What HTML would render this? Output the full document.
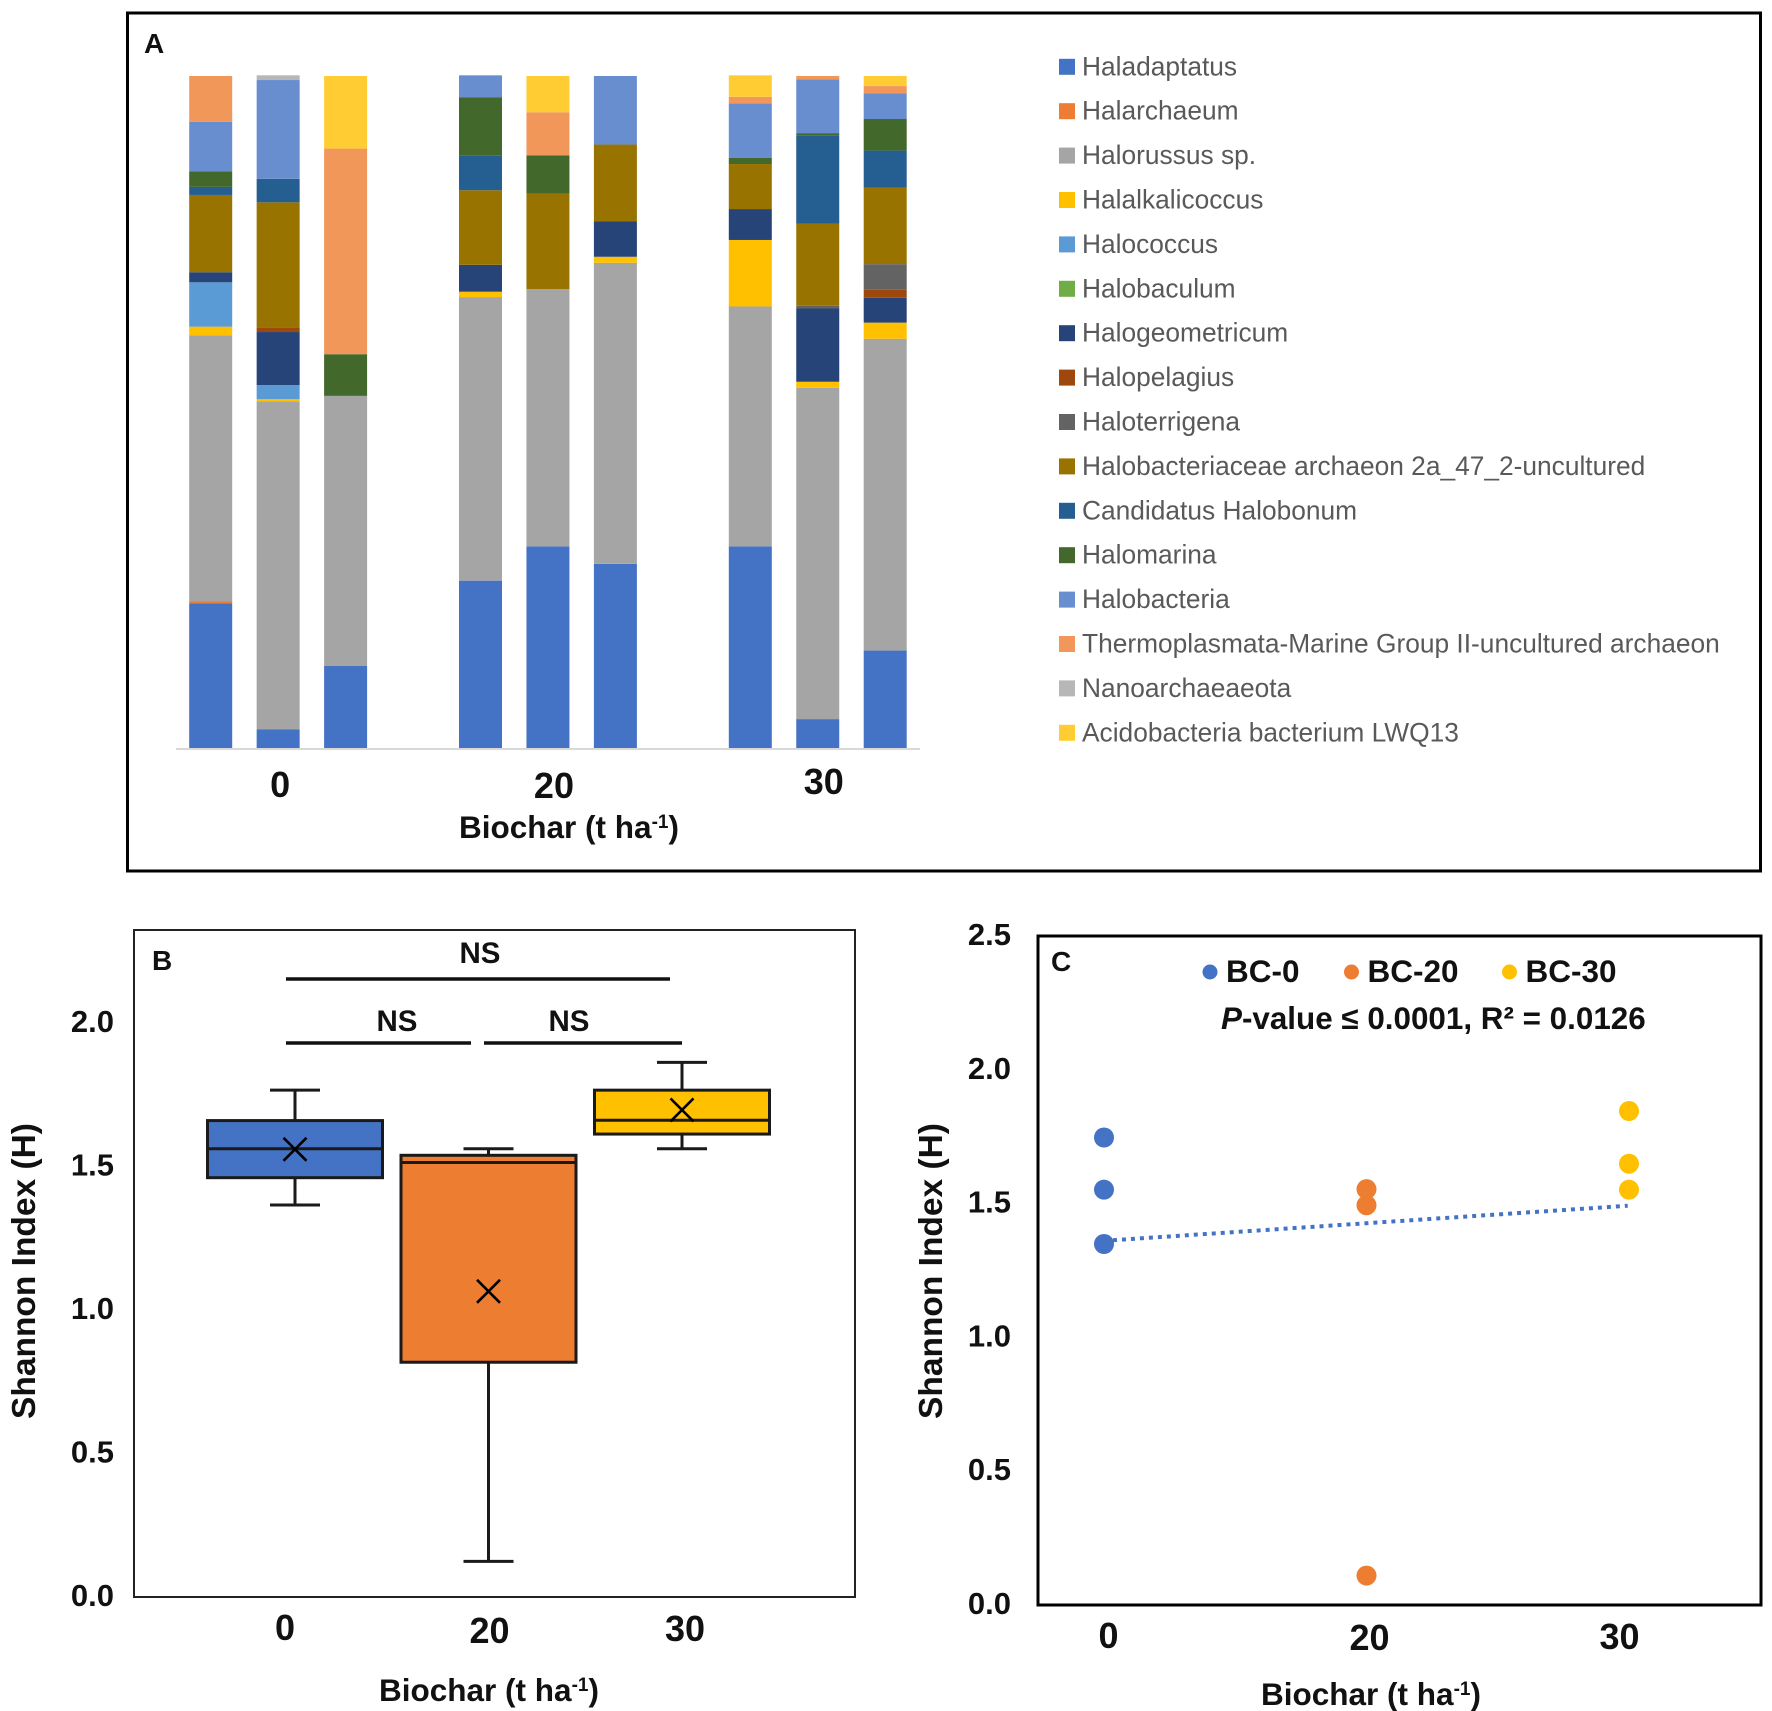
<!DOCTYPE html>
<html lang="en">
<head>
<meta charset="utf-8">
<title>Biochar archaeal community and Shannon diversity</title>
<style>
html,body{margin:0;padding:0;background:#fff;width:1772px;height:1711px;overflow:hidden}
svg{display:block}
text{font-family:"Liberation Sans",Arial,sans-serif}
.b{font-weight:700;fill:#111}
</style>
</head>
<body>
<svg id="fig" xmlns="http://www.w3.org/2000/svg" width="1772" height="1711" viewBox="0 0 1772 1711">
  <rect x="0" y="0" width="1772" height="1711" fill="#fff"/>
  <g id="panelA">
    <rect x="127.5" y="13" width="1633" height="858" fill="none" stroke="#000" stroke-width="3"/>
    <text class="b" x="144" y="53" font-size="28">A</text>
    <text class="b" x="569" y="838" font-size="31.5" text-anchor="middle">Biochar (t ha<tspan dy="-10" font-size="19">-1</tspan><tspan dy="10">)</tspan></text>
  </g>
  <g id="panelB">
    <rect x="134" y="930" width="721" height="667" fill="none" stroke="#222" stroke-width="2"/>
    <text class="b" x="152" y="970" font-size="28">B</text>
    <text class="b" transform="translate(35,1271) rotate(-90)" font-size="33.5" text-anchor="middle">Shannon Index (H)</text>
    <text class="b" x="489" y="1701" font-size="31.5" text-anchor="middle">Biochar (t ha<tspan dy="-10" font-size="19">-1</tspan><tspan dy="10">)</tspan></text>
    <line x1="286" y1="979" x2="670" y2="979" stroke="#111" stroke-width="3.5"/>
    <line x1="286" y1="1043" x2="471" y2="1043" stroke="#111" stroke-width="3.5"/>
    <line x1="484" y1="1043" x2="682" y2="1043" stroke="#111" stroke-width="3.5"/>
    <text class="b" x="480" y="963" font-size="29.5" text-anchor="middle">NS</text>
    <text class="b" x="397" y="1031" font-size="29.5" text-anchor="middle">NS</text>
    <text class="b" x="569" y="1031" font-size="29.5" text-anchor="middle">NS</text>
  </g>
  <g id="panelC">
    <rect x="1038" y="936" width="723" height="669" fill="none" stroke="#000" stroke-width="3"/>
    <text class="b" x="1051" y="971" font-size="28">C</text>
    <text class="b" transform="translate(942,1271) rotate(-90)" font-size="33.5" text-anchor="middle">Shannon Index (H)</text>
    <text class="b" x="1371" y="1705" font-size="31.5" text-anchor="middle">Biochar (t ha<tspan dy="-10" font-size="19">-1</tspan><tspan dy="10">)</tspan></text>
    <text class="b" x="1221" y="1029" font-size="31.4"><tspan font-style="italic">P</tspan>-value ≤ 0.0001, R² = 0.0126</text>
  </g>
</svg>
<script>
// ---------- Panel A data (percent of community, one value per sample) ----------
const groupLabels = ["0", "20", "30"];
const seriesNames = ["Haladaptatus", "Halarchaeum", "Halorussus sp.", "Halalkalicoccus", "Halococcus", "Halobaculum", "Halogeometricum", "Halopelagius", "Haloterrigena", "Halobacteriaceae archaeon 2a_47_2-uncultured", "Candidatus Halobonum", "Halomarina", "Halobacteria", "Thermoplasmata-Marine Group II-uncultured archaeon", "Nanoarchaeaeota", "Acidobacteria bacterium LWQ13"];
const seriesColors = ["#4472c4", "#ed7d31", "#a5a5a5", "#ffc000", "#5b9bd5", "#70ad47", "#264478", "#9e480e", "#636363", "#997300", "#255e91", "#43682b", "#698ed0", "#f1975a", "#b7b7b7", "#ffcd33"];
const haladaptatus = [21.5, 2.8, 12.2, 24.9, 30.0, 27.4, 30.0, 4.3, 14.5];
const halarchaeum = [0.3, 0, 0, 0, 0, 0, 0, 0, 0];
const halorussus = [39.6, 48.8, 40.2, 42.2, 38.3, 44.8, 35.7, 49.3, 46.4];
const halalkalicoccus = [1.3, 0.3, 0, 0.8, 0, 0.9, 9.9, 0.9, 2.4];
const halococcus = [6.6, 2.1, 0, 0, 0, 0, 0, 0, 0];
const halobaculum = [0, 0, 0, 0, 0, 0, 0, 0, 0];
const halogeometricum = [1.5, 7.9, 0, 4.0, 0, 5.3, 4.6, 10.9, 3.7];
const halopelagius = [0, 0.7, 0, 0, 0, 0, 0, 0, 1.2];
const haloterrigena = [0, 0, 0, 0, 0, 0, 0, 0.4, 3.8];
const halobacteriaceae = [11.5, 18.6, 0, 11.1, 14.2, 11.4, 6.7, 12.2, 11.4];
const candidatus = [1.2, 3.5, 0, 5.2, 0, 0, 0, 13.1, 5.5];
const halomarina = [2.3, 0, 6.2, 8.6, 5.7, 0, 0.9, 0.4, 4.7];
const halobacteria = [7.4, 14.7, 0, 3.3, 0, 10.2, 8.1, 8.0, 3.8];
const thermoplasmata = [6.8, 0, 30.6, 0, 6.4, 0, 1.0, 0.5, 1.1];
const nanoarchaeaeota = [0, 0.7, 0, 0, 0, 0, 0, 0, 0];
const acidobacteria = [0, 0, 10.8, 0, 5.4, 0, 3.2, 0, 1.5];

// ---------- Panel B data (Shannon index box summaries) ----------
const boxCategories = ["0", "20", "30"];
const boxColors = ["#4472c4", "#ed7d31", "#ffc000"];
const boxLow = [1.366, 0.124, 1.562];
const boxQ1 = [1.461, 0.818, 1.613];
const boxMedian = [1.562, 1.514, 1.661];
const boxQ3 = [1.66, 1.539, 1.766];
const boxHigh = [1.766, 1.562, 1.863];
const boxMean = [1.56, 1.065, 1.697];
const boxTicks = [0, 0.5, 1, 1.5, 2];

// ---------- Panel C data (Shannon index per sample) ----------
const scatterNames = ["BC-0", "BC-20", "BC-30"];
const scatterColors = ["#4472c4", "#ed7d31", "#ffc000"];
const scatterBC0 = [1.747, 1.552, 1.349];
const scatterBC20 = [1.554, 1.494, 0.11];
const scatterBC30 = [1.846, 1.649, 1.552];
const trendValues = [1.361, 1.492];
const scatterTicks = [0, 0.5, 1, 1.5, 2, 2.5];

const NS = "http://www.w3.org/2000/svg";
function mk(parent, tag, attrs, txt) {
  const el = document.createElementNS(NS, tag);
  for (const k in attrs) el.setAttribute(k, attrs[k]);
  if (txt !== undefined) el.textContent = txt;
  parent.appendChild(el);
  return el;
}
const fmt1 = v => v.toFixed(1);

// ---------- Panel A ----------
(function () {
  const root = document.getElementById("panelA");
  const allSeries = [haladaptatus, halarchaeum, halorussus, halalkalicoccus, halococcus, halobaculum, halogeometricum, halopelagius, haloterrigena, halobacteriaceae, candidatus, halomarina, halobacteria, thermoplasmata, nanoarchaeaeota, acidobacteria];
  const baseY = 748, topY = 76;
  const y = v => baseY - v / 100 * (baseY - topY);
  const x = i => 210.7 + 67.45 * (i + Math.floor(i / 3));
  const barW = 43;
  const nSamples = haladaptatus.length;
  for (let i = 0; i < nSamples; i++) {
    let cum = 0;
    allSeries.forEach((s, k) => {
      if (!s[i]) return;
      const r = mk(root, "rect", { x: x(i) - barW / 2, y: y(cum + s[i]), width: barW, height: y(cum) - y(cum + s[i]), fill: seriesColors[k] });
      
      
      cum += s[i];
    });
  }
  const axis = mk(root, "line", { x1: 176, y1: baseY + 1, x2: 920, y2: baseY + 1, stroke: "#d9d9d9", "stroke-width": 2 });
  
  
  const nudge = [[2, 0], [6, 1], [6, -3]];
  groupLabels.forEach((g, j) => {
    const t = mk(root, "text", { x: x(j * 3 + 1) + nudge[j][0], y: 797 + nudge[j][1], "font-size": 36, "text-anchor": "middle", class: "b" }, g);
    
    
  });
  const legendTop = 66.8, legendStep = 44.4;
  seriesNames.forEach((n, k) => {
    const ly = legendTop + k * legendStep;
    const sw = mk(root, "rect", { x: 1059, y: ly - 8, width: 16, height: 16, fill: seriesColors[k] });
    
    
    const t = mk(root, "text", { transform: "translate(1082," + (ly + 8.5) + ") scale(0.975,1)", "font-size": 27, fill: "#595959" }, n);
    
    
  });
})();

// ---------- Panel B ----------
(function () {
  const root = document.getElementById("panelB");
  const y = v => 1597 - 287 * v;
  const x = i => 295 + 193.5 * i;
  const boxW = 175, capW = 50, ink = "#1a1a1a";
  boxCategories.forEach((c, i) => {
    const cx = x(i);
    const wh = mk(root, "line", { x1: cx, x2: cx, y1: y(boxLow[i]), y2: y(boxHigh[i]), stroke: ink, "stroke-width": 3 });
    
    
    [boxLow[i], boxHigh[i]].forEach(v => {
      const cap = mk(root, "line", { x1: cx - capW / 2, x2: cx + capW / 2, y1: y(v), y2: y(v), stroke: ink, "stroke-width": 3 });
      
      
    });
    const b = mk(root, "rect", { x: cx - boxW / 2, y: y(boxQ3[i]), width: boxW, height: y(boxQ1[i]) - y(boxQ3[i]), fill: boxColors[i], stroke: ink, "stroke-width": 3 });
    
    
    const m = mk(root, "line", { x1: cx - boxW / 2, x2: cx + boxW / 2, y1: y(boxMedian[i]), y2: y(boxMedian[i]), stroke: ink, "stroke-width": 3 });
    
    
    const my = y(boxMean[i]), s = 11.5;
    const mean = mk(root, "path", { d: "M" + (cx - s) + " " + (my - s) + "L" + (cx + s) + " " + (my + s) + "M" + (cx + s) + " " + (my - s) + "L" + (cx - s) + " " + (my + s), stroke: "#000", "stroke-width": 2.6, fill: "none" });
    
    
  });
  boxTicks.forEach(v => {
    const t = mk(root, "text", { x: 114, y: y(v) + 9, "font-size": 31, "text-anchor": "end", class: "b" }, fmt1(v));
    
    
  });
  const nudge = [[-10, 0], [1, 3], [3, 1]];
  boxCategories.forEach((c, i) => {
    const t = mk(root, "text", { x: x(i) + nudge[i][0], y: 1640 + nudge[i][1], "font-size": 36, "text-anchor": "middle", class: "b" }, c);
    
    
  });
})();

// ---------- Panel C ----------
(function () {
  const root = document.getElementById("panelC");
  const y = v => 1605 - 267.6 * v;
  const x = i => 1104 + 262.5 * i;
  const groups = [scatterBC0, scatterBC20, scatterBC30];
  const tr = mk(root, "line", { x1: x(0), y1: y(trendValues[0]), x2: x(1.995), y2: y(trendValues[1]), stroke: "#4472c4", "stroke-width": 4, "stroke-dasharray": "4 5" });
  
  
  groups.forEach((g, i) => {
    g.forEach(v => {
      const c = mk(root, "circle", { cx: x(i), cy: y(v), r: 10, fill: scatterColors[i] });
      
      
    });
  });
  scatterTicks.forEach(v => {
    const t = mk(root, "text", { x: 1011, y: y(v) + 9, "font-size": 31, "text-anchor": "end", class: "b" }, fmt1(v));
    
    
  });
  const nudge = [[4.5, 0], [3, 2], [-9.5, 1]];
  boxCategories.forEach((c, i) => {
    const t = mk(root, "text", { x: x(i) + nudge[i][0], y: 1648 + nudge[i][1], "font-size": 36, "text-anchor": "middle", class: "b" }, c);
    
    
  });
  const legendX = [1210, 1351.5, 1509.5];
  scatterNames.forEach((n, i) => {
    const d = mk(root, "circle", { cx: legendX[i], cy: 972, r: 7.5, fill: scatterColors[i] });
    
    
    const t = mk(root, "text", { x: legendX[i] + 16, y: 982, "font-size": 31.5, class: "b" }, n);
    
    
  });
})();
</script>
</body>
</html>
